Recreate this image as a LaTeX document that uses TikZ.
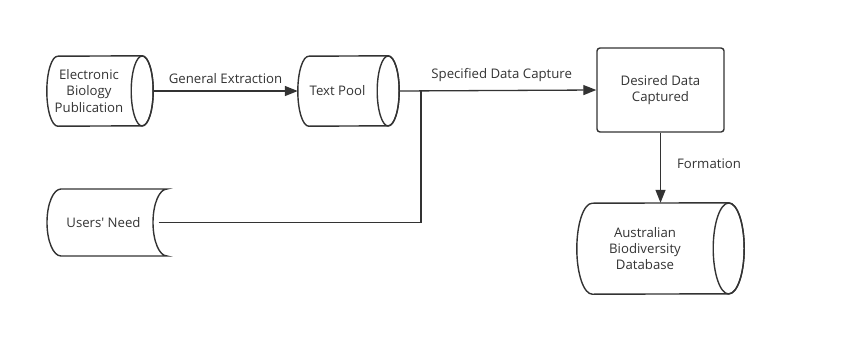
\documentclass[tikz,border=0pt]{standalone}
\usepackage{fontspec}
\setmainfont{Open Sans}
\usetikzlibrary{arrows.meta,calc}
\definecolor{ink}{HTML}{333333}

% Horizontal cylinder around a body node #1 (ellipse radii #2, #3)
\newcommand\drawcyl[3]{%
  \draw[outline] ([xshift=#2]#1.north east)
    arc[start angle=90,end angle=-90,x radius=#2,y radius=#3]
    -- ([xshift=#2]#1.south west)
    arc[start angle=270,end angle=90,x radius=#2,y radius=#3] -- cycle;
  \draw[outline] ([xshift=#2]#1.east) ellipse[x radius=#2,y radius=#3];
}

\begin{document}
\begin{tikzpicture}[x=1pt,y=1pt,
  outline/.style={draw=ink,line width=1.4pt},
  body/.style={inner sep=0pt,align=center,text=ink,
    font=\fontsize{13.2}{16.2}\selectfont},
  lbl/.style={inner sep=0pt,text=ink,font=\fontsize{13.2}{16.2}\selectfont},
  link/.style={draw=ink,line width=1.3pt},
  arrow/.style={link,-{Triangle[length=13pt,width=10pt]}}]
\useasboundingbox (0,0) rectangle (850,-356);

% stores
\node[body,minimum width=84pt,minimum height=70pt] (pub) at (89,-91)
  {Electronic\\Biology\\Publication};
\drawcyl{pub}{11pt}{35pt}

\node[body,minimum width=79pt,minimum height=70pt] (pool) at (337.5,-91)
  {Text Pool};
\drawcyl{pool}{11pt}{35pt}

\node[body,minimum width=136pt,minimum height=91pt] (db) at (645,-248.5)
  {Australian\\Biodiversity\\Database};
\drawcyl{db}{15.5pt}{45.5pt}

% stored data shape
\node[body,minimum width=110pt,minimum height=67pt] (need) at (103.5,-222.5)
  {Users\textquotesingle\ Need};
\draw[outline] (167,-189) -- (61,-189)
  arc[start angle=90,end angle=270,x radius=14,y radius=33.5]
  -- (167,-256)
  arc[start angle=270,end angle=90,x radius=14,y radius=33.5] -- cycle;

% process box
\node[body,draw=ink,line width=1.4pt,rounded corners=3pt,
  minimum width=127pt,minimum height=84pt] (want) at (660.5,-90)
  {Desired Data\\Captured};

% connectors
\coordinate (join) at (421,-91);
\draw[arrow] ([xshift=22pt]pub.east) -- (pool.west)
  node[lbl,midway,yshift=12pt] {General Extraction};
\draw[arrow] ([xshift=22pt]pool.east) -- (want.west)
  node[lbl,pos=0.52,yshift=15pt] {Specified Data Capture};
\draw[link] (need.east) -| (join);
\draw[arrow] (want.south) -- (want.south |- db.north)
  node[lbl,midway,xshift=48.5pt,yshift=4.5pt] {Formation};
\end{tikzpicture}
\end{document}
